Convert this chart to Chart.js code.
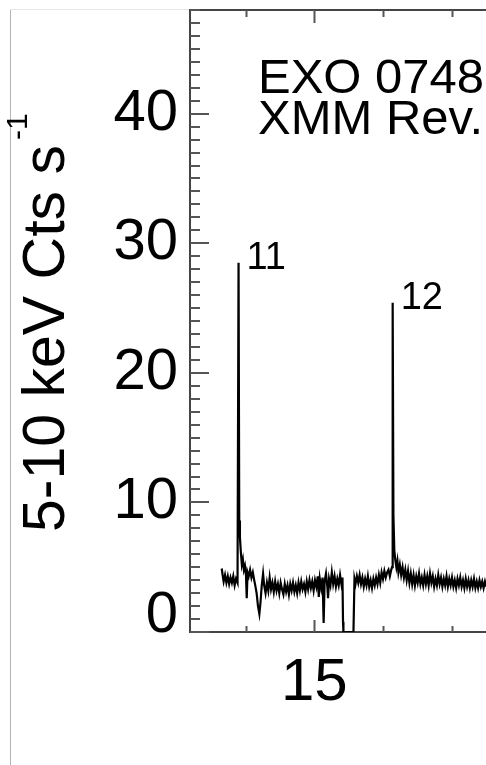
<!DOCTYPE html>
<html><head><meta charset="utf-8">
<script src="https://cdn.jsdelivr.net/npm/chart.js@4.4.1/dist/chart.umd.min.js"></script>
<style>
html,body{margin:0;padding:0;background:#fff;overflow:hidden}
#wrap{position:relative;width:486px;height:765px}
</style></head><body>
<div id="wrap"><canvas id="c"></canvas></div>
<script>
// ---- data (time in ks, 5-10 keV count rate) ----
const times = [13.652,13.665,13.680,13.700,13.720,13.740,13.760,13.780,13.800,13.820,13.840,13.860,13.882,13.897,13.907,13.917,13.930,13.945,13.960,13.975,13.990,14.005,14.016,14.028,14.045,14.065,14.085,14.105,14.125,14.140,14.160,14.180,14.200,14.215,14.235,14.254,14.270,14.290,14.310,14.330,14.350,14.370,14.390,14.410,14.430,14.450,14.470,14.490,14.510,14.530,14.550,14.570,14.590,14.610,14.630,14.650,14.670,14.690,14.710,14.730,14.750,14.770,14.790,14.810,14.830,14.850,14.870,14.890,14.910,14.930,14.950,14.970,14.990,15.010,15.030,15.050,15.065,15.080,15.100,15.120,15.136,15.150,15.170,15.190,15.200,15.215,15.235,15.255,15.275,15.295,15.315,15.335,15.355,15.375,15.395,15.410,15.418,15.424,15.570,15.585,15.600,15.620,15.640,15.660,15.680,15.700,15.720,15.740,15.760,15.780,15.800,15.820,15.840,15.860,15.880,15.900,15.920,15.940,15.960,15.980,16.000,16.020,16.040,16.060,16.080,16.100,16.120,16.132,16.141,16.152,16.165,16.178,16.195,16.210,16.225,16.245,16.265,16.285,16.305,16.325,16.345,16.365,16.385,16.405,16.425,16.445,16.465,16.485,16.505,16.525,16.545,16.565,16.585,16.605,16.625,16.645,16.665,16.685,16.705,16.725,16.745,16.765,16.785,16.805,16.825,16.845,16.865,16.885,16.905,16.925,16.945,16.965,16.985,17.005,17.025,17.045,17.065,17.085,17.105,17.125,17.145,17.165,17.185,17.205,17.225,17.245,17.265,17.285,17.305,17.325,17.345,17.365,17.385,17.405,17.425,17.445,17.465,17.485,17.505,17.525];
const rates = [4.9,4.4,3.9,4.4,3.8,4.3,3.7,4.2,3.8,4.3,3.6,4.1,3.8,28.5,8.6,7.3,6.2,5.2,5.6,4.8,5.1,4.4,2.6,4.6,4.3,4.8,4.2,4.6,4.0,3.6,3.0,2.0,1.4,2.2,3.6,4.5,3.6,3.0,3.8,3.2,4.2,3.3,3.8,3.1,3.9,3.2,3.7,3.0,3.8,3.3,2.9,3.7,3.1,3.6,2.9,3.7,3.2,3.8,3.1,3.6,3.0,3.8,3.2,3.9,3.3,3.7,3.1,3.9,3.3,4.0,3.4,3.9,3.2,4.0,3.5,4.3,2.7,4.1,3.4,4.2,0.7,3.9,4.5,3.5,2.6,4.1,3.6,4.6,3.7,4.3,3.5,4.1,3.6,4.4,3.7,4.2,0.8,0.0,0.0,4.1,3.7,4.3,3.8,4.4,3.7,4.2,3.5,4.1,3.6,4.3,3.5,4.0,3.4,4.1,3.6,4.2,3.7,4.4,3.8,4.6,4.1,4.7,4.2,4.6,4.8,4.3,4.8,5.0,25.4,9.0,6.3,5.6,5.0,5.5,4.6,5.2,4.4,5.0,4.2,4.8,4.0,4.7,3.8,4.5,3.7,4.4,3.6,4.3,3.8,4.5,3.7,4.2,3.6,4.4,3.7,4.3,3.6,4.5,3.8,4.3,3.5,4.1,3.6,4.4,3.7,4.2,3.5,4.1,3.6,4.3,3.5,4.1,3.6,4.2,3.5,4.0,3.4,4.1,3.6,4.2,3.5,4.0,3.4,4.1,3.5,4.0,3.4,4.0,3.5,4.1,3.4,3.9,3.4,4.0,3.5,3.9,3.4,3.9,3.5,3.7];
const burstLabels = ['11', '12'];
const burstTimes = [13.897, 16.141];
const burstPeaks = [28.5, 25.4];
const titleLines = ['EXO 0748', 'XMM Rev.'];
const yTitle = '5-10 keV Cts s';
const yTitleSup = '-1';
const yTickStep = 10;
const xTickStep = 5;

const FONT = "'Liberation Sans', Arial, Helvetica, sans-serif";

const points = times.map((t, i) => ({x: t, y: rates[i]}));

const decor = {
  id: 'decor',
  beforeDatasetsDraw(chart) {
    const {ctx, chartArea: a, scales: {x, y}} = chart;
    ctx.save();
    // page border
    ctx.lineWidth = 1;
    ctx.strokeStyle = '#b4b4b4';
    ctx.beginPath(); ctx.moveTo(10.5, 9); ctx.lineTo(10.5, chart.height); ctx.stroke();
    ctx.strokeStyle = '#e6e6e6';
    ctx.beginPath(); ctx.moveTo(10, 9.5); ctx.lineTo(a.left, 9.5); ctx.stroke();
    // axis frame
    ctx.strokeStyle = '#444';
    ctx.lineWidth = 2;
    ctx.beginPath();
    ctx.moveTo(chart.width, a.top); ctx.lineTo(a.left, a.top);
    ctx.lineTo(a.left, a.bottom); ctx.lineTo(chart.width, a.bottom);
    ctx.stroke();
    // y ticks (inward)
    ctx.strokeStyle = '#555';
    for (let v = 0; v <= y.max; v += 1) {
      const py = Math.round(y.getPixelForValue(v));
      const len = (v % yTickStep === 0) ? 19 : 10;
      ctx.beginPath(); ctx.moveTo(a.left, py); ctx.lineTo(a.left + len, py); ctx.stroke();
    }
    // x ticks bottom and top (inward)
    for (let v = Math.ceil(x.min); v <= x.max; v += 1) {
      const px = Math.round(x.getPixelForValue(v)) + 0.5;
      const major = v % xTickStep === 0;
      ctx.beginPath(); ctx.moveTo(px, a.bottom); ctx.lineTo(px, a.bottom - (major ? 12 : 6)); ctx.stroke();
      ctx.beginPath(); ctx.moveTo(px, a.top); ctx.lineTo(px, a.top + (major ? 13 : 7)); ctx.stroke();
    }
    ctx.restore();
  },
  afterDraw(chart) {
    const {ctx, scales: {x, y}} = chart;
    ctx.save();
    ctx.fillStyle = '#000';
    // title text
    ctx.font = '49px ' + FONT;
    ctx.textAlign = 'left';
    ctx.textBaseline = 'alphabetic';
    ctx.fillText(titleLines[0], 258, 93);
    ctx.fillText(titleLines[1], 258, 134);
    // burst labels
    ctx.font = '38px ' + FONT;
    burstLabels.forEach((lab, i) => {
      const px = x.getPixelForValue(burstTimes[i]);
      const py = y.getPixelForValue(burstPeaks[i]);
      ctx.fillText(lab, px + 8, py + 6);
    });
    // y axis title with superscript
    ctx.translate(64, 532);
    ctx.rotate(-Math.PI / 2);
    ctx.font = '59px ' + FONT;
    ctx.fillText(yTitle, 0, 0);
    const w = ctx.measureText(yTitle).width;
    ctx.font = '30px ' + FONT;
    ctx.fillText(yTitleSup, w + 5, -37);
    ctx.restore();
  }
};

new Chart(document.getElementById('c'), {
  type: 'line',
  data: {
    datasets: [{
      data: points,
      borderColor: '#000',
      borderWidth: 2.2,
      pointRadius: 0,
      tension: 0,
      fill: false
    }]
  },
  options: {
    responsive: true,
    maintainAspectRatio: false,
    animation: false,
    parsing: false,
    layout: {padding: {top: 10, left: 0, right: 0, bottom: 0}},
    plugins: {legend: {display: false}, tooltip: {enabled: false}},
    scales: {
      x: {
        type: 'linear',
        min: 13.19,
        max: 17.50,
        grid: {display: false, drawTicks: false},
        border: {display: false},
        afterBuildTicks(s) { s.ticks = s.ticks.filter(t => t.value % xTickStep === 0); },
        ticks: {
          stepSize: xTickStep,
          includeBounds: false,
          padding: 15,
          color: '#000',
          maxRotation: 0,
          autoSkip: false,
          font: {family: FONT, size: 60, lineHeight: 1.2}
        },
        afterFit(s) { s.height = 133; s.paddingLeft = 0; s.paddingRight = 0; }
      },
      y: {
        type: 'linear',
        min: 0,
        max: 48,
        grid: {display: false, drawTicks: false},
        border: {display: false},
        afterBuildTicks(s) { s.ticks = s.ticks.filter(t => t.value % yTickStep === 0); },
        ticks: {
          stepSize: yTickStep,
          includeBounds: false,
          padding: 12,
          color: '#000',
          autoSkip: false,
          font: {family: FONT, size: 58, lineHeight: 32 / 58},
          callback: (v) => v === 0 ? ['0', ''] : String(v)
        },
        afterFit(s) { s.width = 190; s.paddingTop = 0; s.paddingBottom = 0; }
      }
    }
  },
  plugins: [decor]
});
</script>
</body></html>
